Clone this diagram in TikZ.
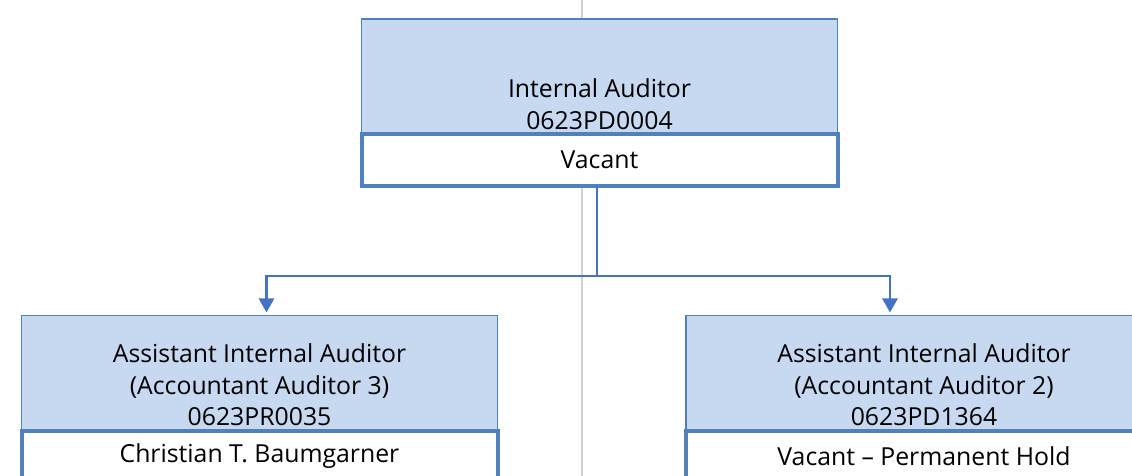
\documentclass[tikz,border=0pt]{standalone}
\usepackage{fontspec}
\setmainfont{Open Sans}
\usepackage{tikz}
\usetikzlibrary{%
  positioning
 ,arrows.meta
 ,shadows
}
\definecolor{jobfill}{HTML}{C6D9F0}
\definecolor{jobline}{HTML}{4F81BD}
\definecolor{linkblue}{HTML}{4472C4}
\tikzstyle{job}=[draw=jobline,fill=jobfill,line width=0.75pt,minimum width=238pt,minimum height=57.5pt,inner sep=0pt,outer sep=0pt]
\tikzstyle{who}=[draw=jobline,fill=white,line width=2pt,minimum width=238pt,minimum height=26pt,inner sep=0pt,outer sep=0pt,drop shadow={shadow xshift=0.6pt,shadow yshift=-1pt,opacity=0.25}]
\tikzstyle{txt}=[align=center,inner sep=0pt]
\tikzstyle{link}=[draw=linkblue,line width=1.4pt,shorten >=1.5pt,-{Triangle[width=7.5pt,length=7pt]}]

\begin{document}
\begin{tikzpicture}[x=0.5pt,y=-0.5pt,font=\fontsize{12.4pt}{15.75pt}\selectfont]
  \useasboundingbox (0,0) rectangle (1132,476);
  \clip (0,0) rectangle (1132,476);
  \draw[gray!35,line width=0.75pt] (582,0) -- (582,476);
% top
  \node[job]                        (top_t) at (599.5,76.5) {};
  \node[who,below=0pt of top_t]     (top_h) {Vacant};
  \node[txt,above=2pt of top_h]     (top_n) {Internal Auditor\\0623PD0004};
% left
  \node[job]                        (aa3_t) at (259.5,373) {};
  \node[who,below=0pt of aa3_t]     (aa3_h) {Christian T. Baumgarner};
  \node[txt,above=2pt of aa3_h]     (aa3_n) {Assistant Internal Auditor\\(Accountant Auditor 3)\\0623PR0035};
% right
  \node[job]                        (aa2_t) at (924,373) {};
  \node[who,below=0pt of aa2_t]     (aa2_h) {Vacant -- Permanent Hold};
  \node[txt,above=2pt of aa2_h]     (aa2_n) {Assistant Internal Auditor\\(Accountant Auditor 2)\\0623PD1364};
%
  \draw[link] ([xshift=-1.25pt]top_h.south) -- ++(0,-45pt) -| ([xshift=3.5pt]aa3_t.north);
  \draw[link] ([xshift=-1.25pt]top_h.south) -- ++(0,-45pt) -| ([xshift=-17pt]aa2_t.north);
\end{tikzpicture}
\end{document}
